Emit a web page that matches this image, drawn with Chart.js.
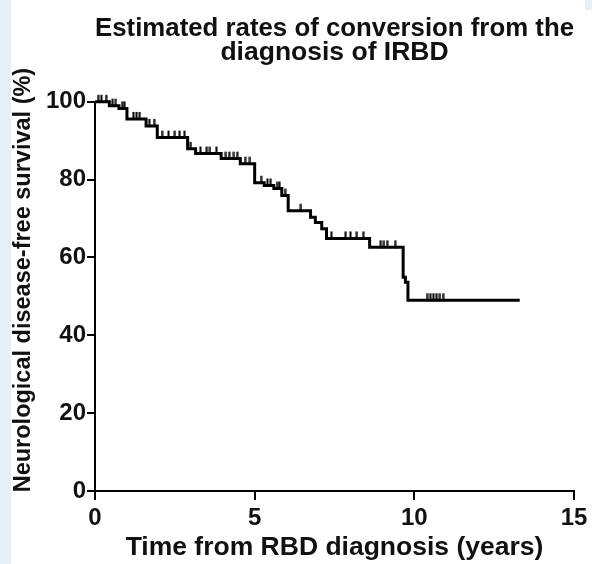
<!DOCTYPE html>
<html lang="en">
<head>
<meta charset="UTF-8">
<title>Estimated rates of conversion from the diagnosis of IRBD</title>
<script src="https://cdn.jsdelivr.net/npm/chart.js"></script>
<style>
    body { margin: 0; background: #fff; }
    #wrap { position: relative; width: 592px; height: 564px; }
    /* light blue page edge seen in the figure */
    .edge-left { position: absolute; left: 0; top: 0; width: 11px; height: 564px; background: #e4eff9; }
    .edge-right { position: absolute; left: 585px; top: 0; width: 7px; height: 10px; background: #e4eff9; }
    canvas { position: absolute; left: 0; top: 0; }
</style>
</head>
<body>
<div id="wrap">
    <div class="edge-left"></div>
    <div class="edge-right"></div>
    <canvas id="kmChart" width="592" height="564"></canvas>
</div>
<script>
    // Kaplan-Meier steps: survival (%) from each time (years) on
    const kmTimes = [0, 0.45, 0.75, 1.0, 1.6, 1.95, 2.9, 3.15, 3.95, 4.55, 5.0, 5.3, 5.6, 5.85, 6.05, 6.75, 6.9, 7.1, 7.25, 8.6, 9.65, 9.72, 9.8, 13.3];
    const kmSurvival = [100, 99, 98.3, 95.6, 93.8, 90.8, 87.9, 86.7, 85.4, 84.1, 79.2, 78.5, 77.7, 75.9, 72, 70.3, 69, 67.4, 64.9, 62.6, 54.9, 53.6, 49, 49];

    // censored observations (years)
    const censorTimes = [0.1, 0.2, 0.35, 0.55, 0.65, 0.85, 0.92, 1.2, 1.3, 1.4, 1.7, 1.85, 2.1, 2.3, 2.5, 2.65, 2.8, 3.0,
        3.3, 3.5, 3.6, 3.8, 4.1, 4.2, 4.35, 4.45, 4.7, 4.85, 5.2, 5.4, 5.5, 5.7, 5.78, 5.95, 6.45,
        7.4, 7.85, 8.0, 8.2, 8.4, 8.95, 9.05, 9.15, 9.4, 10.4, 10.5, 10.6, 10.7, 10.8, 10.9];

    const xTicks = [0, 5, 10, 15];
    const yTicks = [0, 20, 40, 60, 80, 100];

    const FONT = "'Liberation Sans', Arial, Helvetica, sans-serif";

    function survivalAt(t) {
        let s = kmSurvival[0];
        for (let i = 0; i < kmTimes.length; i++) {
            if (kmTimes[i] <= t) s = kmSurvival[i];
        }
        return s;
    }

    // small vertical tick sitting on top of the curve
    function makeTick() {
        const c = document.createElement('canvas');
        c.width = 3; c.height = 16;
        const g = c.getContext('2d');
        g.fillStyle = '#000';
        g.fillRect(0.5, 1, 2, 8);
        return c;
    }
    const tickImg = makeTick();

    const curve = kmTimes.map((t, i) => ({ x: t, y: kmSurvival[i] }));
    const censored = censorTimes.map(t => ({ x: t, y: survivalAt(t) }));

    new Chart(document.getElementById('kmChart'), {
        type: 'line',
        data: {
            datasets: [{
                data: curve,
                stepped: true,
                borderColor: '#000',
                borderWidth: 3,
                pointRadius: 0,
                clip: false
            }, {
                data: censored,
                showLine: false,
                pointStyle: tickImg,
                pointRadius: 3,
                clip: false
            }]
        },
        options: {
            responsive: false,
            devicePixelRatio: 1,
            animation: false,
            layout: { padding: { top: 5, left: 12, right: 18, bottom: 0 } },
            plugins: {
                legend: { display: false },
                tooltip: { enabled: false },
                title: {
                    display: true,
                    fullSize: false,
                    text: ['Estimated rates of conversion from the', 'diagnosis of IRBD'],
                    color: '#111',
                    font: { family: FONT, size: 26.5, weight: 'bold', lineHeight: 0.92 },
                    padding: { top: 11, bottom: 37 }
                }
            },
            scales: {
                x: {
                    type: 'linear',
                    min: 0,
                    max: 15,
                    afterBuildTicks: s => { s.ticks = xTicks.map(v => ({ value: v })); },
                    afterFit: s => { s.height = 73; },
                    grid: { drawOnChartArea: false, color: '#000', lineWidth: 2, tickLength: 9 },
                    border: { color: '#000', width: 2 },
                    ticks: { color: '#111', padding: 4, maxRotation: 0, font: { family: FONT, size: 24, weight: 'bold' } },
                    title: {
                        display: true,
                        text: 'Time from RBD diagnosis (years)',
                        color: '#111',
                        font: { family: FONT, size: 26.5, weight: 'bold', lineHeight: 1 },
                        padding: { top: 0, bottom: 3 }
                    }
                },
                y: {
                    min: 0,
                    max: 100,
                    afterBuildTicks: s => { s.ticks = yTicks.map(v => ({ value: v })); },
                    afterFit: s => { s.width = 83; },
                    grid: { drawOnChartArea: false, color: '#000', lineWidth: 2, tickLength: 8 },
                    border: { color: '#000', width: 2 },
                    ticks: { color: '#111', padding: 1, font: { family: FONT, size: 24, weight: 'bold' } },
                    title: {
                        display: true,
                        // leading spaces lift the label a little above the axis centre, as in the figure
                        text: '     Neurological disease-free survival (%)',
                        color: '#111',
                        font: { family: FONT, size: 23.5, weight: 'bold', lineHeight: 1 },
                        padding: { top: 0, bottom: 0 }
                    }
                }
            }
        }
    });
</script>
</body>
</html>
